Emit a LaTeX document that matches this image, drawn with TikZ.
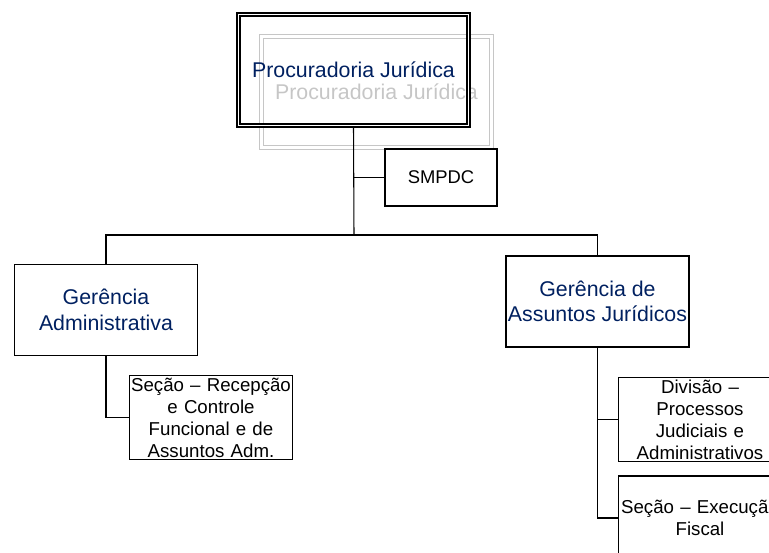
\documentclass[tikz,border=0pt]{standalone}
\usepackage{fontspec}
\setmainfont{Liberation Sans}
\definecolor{titleblue}{RGB}{0,32,96}
\definecolor{ghostgray}{RGB}{198,198,198}

\begin{document}
\begin{tikzpicture}[x=0.75pt, y=-0.75pt,
    unit/.style={draw, line width=1.2pt, inner sep=0pt, align=center},
    title/.style={font=\fontsize{16}{19}\selectfont, minimum width=172.5pt, minimum height=83pt},
    head/.style={unit, text=titleblue, font=\fontsize{16}{19}\selectfont, minimum width=137.5pt, minimum height=68.5pt},
    sub/.style={unit, font=\fontsize{14}{16.5}\selectfont, text width=122pt, minimum height=63pt},
    link/.style={line width=0.8pt}]
    \useasboundingbox (0,0) rectangle (769,553);
    \clip (0,0) rectangle (769,553);
    % top of the chart
    \node[title, draw=ghostgray, double, line width=0.9pt, double distance=2pt, text=ghostgray] (ghost) at (376.5,92) {Procuradoria Jurídica};
    \node[title, draw, double, line width=1.3pt, double distance=1pt, text=titleblue] (proc) at (353.5,70) {Procuradoria Jurídica};
    \node[unit, font=\fontsize{13.8}{16}\selectfont, minimum width=84pt, minimum height=42.75pt] (smpdc) at (441,177.5) {SMPDC};
    \coordinate (bus) at (354,235);
    % managements
    \node[head] (gadm) at (106,310) {Gerência\\Administrativa};
    \node[head] (gjur) at (597.5,301.5) {Gerência de\\Assuntos Jurídicos};
    % sections
    \node[sub] (secrec) at (211,417.5) {Seção – Recepção\\e Controle\\Funcional e de\\Assuntos Adm.};
    \node[sub] (divproc) at (700,419.5) {Divisão –\\Processos\\Judiciais e\\Administrativos};
    \node[sub] (secexec) at (700,518) {Seção – Execução\\Fiscal};
    % links
    \draw[link] (proc.south) -- (bus);
    \draw[link] (proc.south) |- (smpdc.west);
    \draw[link] (gadm.north) |- (bus) -| (gjur.north);
    \draw[link] (gadm.south) |- (secrec.west);
    \draw[link] (gjur.south) |- (divproc.west);
    \draw[link] (gjur.south) |- (secexec.west);
\end{tikzpicture}
\end{document}
